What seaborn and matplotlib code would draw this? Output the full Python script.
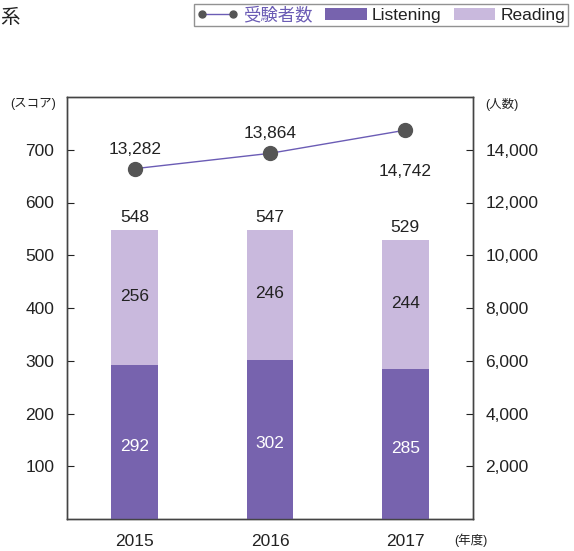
import numpy as np
import matplotlib
matplotlib.use("Agg")
import matplotlib.pyplot as plt
import seaborn as sns
import pandas as pd
from matplotlib.lines import Line2D
from matplotlib.patches import Patch

# データ
years = ["2015", "2016", "2017"]
listening = [292, 302, 285]
reading = [256, 246, 244]
totals = [548, 547, 529]
examinees = [13282, 13864, 14742]

sns.set_style("white")
plt.rcParams["font.family"] = ["Liberation Sans", "Noto Sans CJK JP", "DejaVu Sans"]

c_listen = "#7763ae"
c_read = "#c9b9dd"
c_line = "#6b5cb5"
c_text = "#222222"

df = pd.DataFrame({"year": years, "listening": listening,
                   "total": totals, "reading": reading})

fig = plt.figure(figsize=(5.74, 5.51), dpi=100)
ax = fig.add_axes([67 / 574, 32 / 551, 406 / 574, 422 / 551])

# 積み上げ棒（合計を薄色で描いてからListeningを重ねる）
sns.barplot(data=df, x="year", y="total", color=c_read, width=0.345,
            saturation=1, linewidth=0, ax=ax, zorder=2)
sns.barplot(data=df, x="year", y="listening", color=c_listen, width=0.345,
            saturation=1, linewidth=0, ax=ax, zorder=3)

ax.set_xlim(-0.5, 2.5)
ax.set_ylim(0, 800)
ax.set_yticks([100, 200, 300, 400, 500, 600, 700])
ax.set_xlabel("")
ax.set_ylabel("")
ax.tick_params(axis="y", direction="in", length=5, labelsize=12.5, colors=c_text, pad=9)
ax.tick_params(axis="x", length=0, labelsize=12.5, colors=c_text, pad=11)
for s in ax.spines.values():
    s.set_color("#444444")
    s.set_linewidth(1.0)

for i in range(len(years)):
    ax.text(i, listening[i] / 2 - 8, str(listening[i]), ha="center", va="center",
            fontsize=12.5, color="white", zorder=5)
    ax.text(i, listening[i] + reading[i] / 2 + 2, str(reading[i]), ha="center",
            va="center", fontsize=12.5, color=c_text, zorder=5)
    ax.text(i, totals[i] + 10, str(totals[i]), ha="center", va="bottom",
            fontsize=12.5, color=c_text, zorder=5)

# 受験者数（右軸）
ax2 = ax.twinx()
sns.lineplot(x=np.arange(len(years)), y=examinees, ax=ax2, color=c_line,
             linewidth=1.0, zorder=4)
ax2.plot(np.arange(len(years)), examinees, linestyle="none", marker="o",
         markersize=10, color="#555555", zorder=5)
ax2.set_ylim(0, 16000)
ax2.set_yticks([2000, 4000, 6000, 8000, 10000, 12000, 14000])
ax2.set_yticklabels([f"{v:,}" for v in ax2.get_yticks()])
ax2.tick_params(axis="y", direction="in", length=5, labelsize=12.5, colors=c_text, pad=9)
ax2.set_xlim(-0.5, 2.5)
for s in ax2.spines.values():
    s.set_color("#444444")
    s.set_linewidth(1.0)

for i, v in enumerate(examinees):
    if i < 2:
        ax2.text(i, v + 450, f"{v:,}", ha="center", va="bottom", fontsize=12.5, color=c_text)
    else:
        ax2.text(i, v - 1300, f"{v:,}", ha="center", va="top", fontsize=12.5, color=c_text)

# 単位ラベル
fig.text(33 / 574, 1 - 104 / 551, "(スコア)", ha="center", va="center", fontsize=9, color=c_text)
fig.text(502 / 574, 1 - 104 / 551, "(人数)", ha="center", va="center", fontsize=9, color=c_text)
fig.text(471 / 574, 1 - 540 / 551, "(年度)", ha="center", va="center", fontsize=9, color=c_text)
fig.text(0.0, 1 - 18 / 551, "系", ha="left", va="center", fontsize=14, color=c_text)

# 凡例
handles = [
    Line2D([0], [0], color=c_line, marker="o", markersize=5, markerfacecolor="#555555",
           markeredgecolor="#555555", linewidth=1.0),
    Patch(facecolor=c_listen, edgecolor="none"),
    Patch(facecolor=c_read, edgecolor="none"),
]
leg = fig.legend(handles, ["受験者数", "Listening", "Reading"], loc="upper right",
                 bbox_to_anchor=(568 / 574, 1 - 4 / 551), ncol=3, fontsize=12.5,
                 frameon=True, fancybox=False, handlelength=2.4, handletextpad=0.3,
                 columnspacing=0.7, borderpad=0.15, borderaxespad=0, numpoints=2)
leg.get_frame().set_edgecolor("#777777")
leg.get_frame().set_linewidth(1.0)
leg.get_texts()[0].set_color(c_line)
for t in leg.get_texts()[1:]:
    t.set_color(c_text)

fig.savefig("out.png", dpi=100)
